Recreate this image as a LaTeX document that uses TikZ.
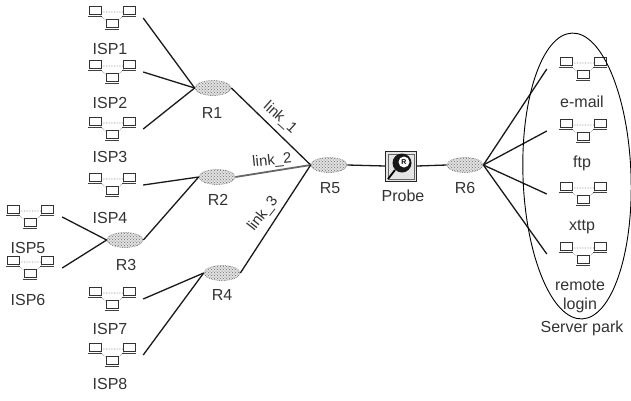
\documentclass[tikz,border=0pt]{standalone}
\usepackage{fontspec}
\setmainfont{Liberation Sans}
\usetikzlibrary{shapes.geometric,patterns}
\tikzset{
 x=1pt,y=-1pt,
 lbl/.style={font=\fontsize{16}{18}\selectfont,text=black!80,inner sep=0pt},
 linklbl/.style={font=\fontsize{15}{17}\selectfont,text=black!80,inner sep=0pt},
 wire/.style={line width=1.3pt,black!90},
 router/.style={ellipse,minimum width=36pt,minimum height=15pt,inner sep=0pt,draw=black!50,densely dotted,line width=.7pt,preaction={fill=black!12},pattern=crosshatch dots,pattern color=black!55},
 netbox/.style={minimum height=26pt,inner sep=0pt},
 pc/.style={draw=black!80,line width=.8pt,fill=white},
 tie/.style={black!50,densely dotted,line width=.6pt},
}
% name, box width (the connector ends on its side), x, y
\newcommand{\netnode}[4]{%
 \node[netbox,minimum width=#2pt] (#1) at (#3,#4) {};
 \begin{scope}[shift={(#1.center)}]
  \draw[tie] (-17,-6)--(17,-6) (-12,-3)--(-2,6) (12,-3)--(2,6);
  \foreach \dx/\dy in {-17/-7,17/-7,0/6}{
   \draw[pc] (\dx-6,\dy-5) rectangle (\dx+6,\dy+3);
   \draw[black!75,line width=.8pt] (\dx-7,\dy+5.5) -- (\dx+7,\dy+5.5);
  }
 \end{scope}}
\begin{document}
\begin{tikzpicture}
\useasboundingbox (0,0) rectangle (631,400);
% networks
\netnode{isp1}{62}{112}{18}
\netnode{isp2}{62}{112}{72}
\netnode{isp3}{62}{112}{129}
\netnode{isp4}{62}{112}{185}
\netnode{isp5}{64}{30}{217}
\netnode{isp6}{64}{30}{268}
\netnode{isp7}{62}{112}{299}
\netnode{isp8}{62}{112}{355}
\netnode{srv1}{72}{583}{69}
\netnode{srv2}{72}{583}{131}
\netnode{srv3}{72}{583}{194}
\netnode{srv4}{72}{583}{254}
% routers
\node[router] (R1) at (213,88) {};
\node[router] (R2) at (217,177) {};
\node[router] (R3) at (125,240) {};
\node[router] (R4) at (222,273) {};
\node[router] (R5) at (329,165) {};
\node[router] (R6) at (465,165) {};
% probe
\node[draw=black!85,fill=black!10,line width=.9pt,minimum width=31pt,minimum height=30pt,inner sep=0pt] (probe) at (401,166) {};
\draw[black!60,line width=.5pt] (388,154) rectangle (414,179);
\fill[black!90] (402,163) circle (9.5);
\fill[white] (404,162) circle (5.5);
\node[font=\fontsize{7}{7}\selectfont\bfseries,inner sep=0pt] (probeR) at (404,162) {R};
\draw[black,line width=1.8pt] (395,170) -- (388,179);
% labels
\node[lbl] (l1) at (110,49) {ISP1};
\node[lbl] (l2) at (110,103) {ISP2};
\node[lbl] (l3) at (110,157) {ISP3};
\node[lbl] (l4) at (110,218) {ISP4};
\node[lbl] (l5) at (28,248) {ISP5};
\node[lbl] (l6) at (28,300) {ISP6};
\node[lbl] (l7) at (110,329) {ISP7};
\node[lbl] (l8) at (110,384) {ISP8};
\node[lbl] (lr1) at (212,113) {R1};
\node[lbl] (lr2) at (218,200) {R2};
\node[lbl] (lr3) at (126,265) {R3};
\node[lbl] (lr4) at (222,295) {R4};
\node[lbl] (lr5) at (330,188) {R5};
\node[lbl] (lr6) at (465,188) {R6};
\node[lbl] (lp) at (403,196) {Probe};
\node[lbl] (s1) at (582,102) {e-mail};
\node[lbl] (s2) at (582,163) {ftp};
\node[lbl] (s3) at (582,227) {xttp};
\node[lbl] (s4) at (580,285) {remote};
\node[lbl] (s5) at (580,305) {login};
\node[lbl] (s6) at (582,328) {Server park};
\node[linklbl,rotate=-42] (k1) at (280,118) {link\_1};
\node[linklbl,rotate=6] (k2) at (272,161) {link\_2};
\node[linklbl,rotate=52] (k3) at (263,214) {link\_3};
% connectors
\draw[wire] (isp1.east) -- (R1.west);
\draw[wire] (isp2.east) -- (R1.west);
\draw[wire] (isp3.east) -- (R1.west);
\draw[wire] (isp4.east) -- (R2.west);
\draw[wire] (isp5.east) -- (R3.west);
\draw[wire] (isp6.east) -- (R3.west);
\draw[wire] (isp7.east) -- (R4.west);
\draw[wire] (isp8.east) -- (R4.west);
\draw[wire] (R3.east) -- (R2.west);
\draw[wire] (R1.east) -- (R5.west);
\draw[wire,line width=1.8pt,black!60] (R2.east) -- (R5.west);
\draw[wire] (R4.east) -- (R5.west);
\draw[wire] (R5.east) -- (probe.west);
\draw[wire] (probe.east) -- (R6.west);
\draw[wire] (R6.east) -- (srv1.west);
\draw[wire] (R6.east) -- (srv2.west);
\draw[wire] (R6.east) -- (srv3.west);
\draw[wire] (R6.east) -- (srv4.west);
% server park
\node[ellipse,draw=black,line width=.9pt,minimum width=108pt,minimum height=286pt,inner sep=0pt,rotate=2] (park) at (577,176) {};
\end{tikzpicture}
\end{document}
